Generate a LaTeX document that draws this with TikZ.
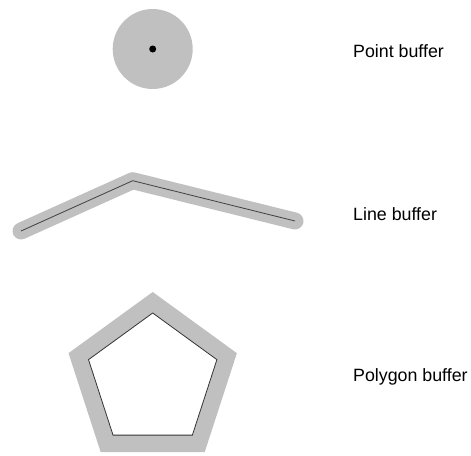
\documentclass[tikz,border=0pt]{standalone}
\usepackage{fontspec}
\setmainfont{Liberation Sans}
\usepackage{tikz}
\usetikzlibrary{shapes.geometric,positioning}
\definecolor{buffergray}{RGB}{192,192,192}
\tikzstyle{label} = [anchor=base west, inner sep=0pt, font=\fontsize{17.8}{20}\selectfont]
\tikzset{buffer/.style = {
    fill=buffergray,
    draw=none,
  }
}

\begin{document}
\begin{tikzpicture}[x=1pt, y=-1pt]
          \useasboundingbox (0,0) rectangle (471,455);
          % shapes
          \tikzstyle{pentagon} = [regular polygon, regular polygon sides=5, inner sep=0pt]

          % point buffer
          \node[buffer, circle, minimum size=80pt, inner sep=0pt] (pbuf) at (152.7,49) {};
          \node[circle, fill=black, minimum size=7pt, inner sep=0pt] (pt) at (pbuf.center) {};

          % line buffer
          \coordinate (la) at (21,231);
          \coordinate (lb) at (132.7,180.7);
          \coordinate (lc) at (295,221);
          \draw[buffergray, line width=17pt, line cap=round, line join=round] (la) -- (lb) -- (lc);
          \draw[black!75, line width=0.8pt] (la) -- (lb) -- (lc);

          % polygon buffer
          \node[buffer, pentagon, minimum size=177pt] (gbuf) at (152.7,380.5) {};
          \node[pentagon, fill=white, draw=black!80, line width=0.8pt, minimum size=135pt] (poly) at (gbuf.center) {};

          % labels
          \node[label] (ptext) at (353,57.3) {Point buffer};
          \node[label] (ltext) at (353,220) {Line buffer};
          \node[label] (gtext) at (353,381.7) {Polygon buffer};
        \end{tikzpicture}
\end{document}
